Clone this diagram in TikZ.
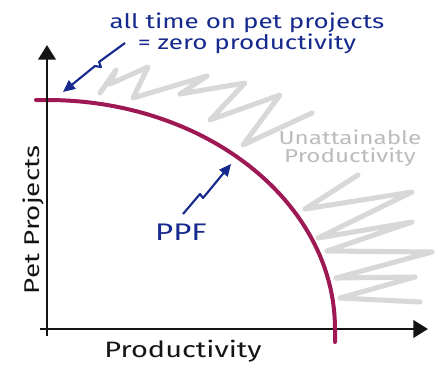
\documentclass[tikz,border=0pt]{standalone}
\usepackage{fontspec}
\setmainfont{Fira Sans}
\newfontfamily\handfont[FakeStretch=1.3]{Fira Sans}
\usetikzlibrary{arrows.meta}

\definecolor{ppfred}{RGB}{158,24,84}
\definecolor{penblue}{RGB}{22,42,142}
\definecolor{chalkgray}{RGB}{216,216,216}
\definecolor{notegray}{RGB}{188,188,188}

\tikzset{
  axisline/.style={line width=2.2pt, color={rgb,255:red,20;green,20;blue,20}, -{Triangle[length=11pt,width=13pt]}},
  ppfline/.style={line width=3pt, color=ppfred, line cap=round},
  zigline/.style={line width=3.8pt, color=chalkgray, line cap=round, line join=round},
  penarrow/.style={line width=1.6pt, color=penblue, line join=round, -{Triangle[length=9pt,width=8pt]}},
  pentext/.style={inner sep=0.75pt, text=penblue},
  axistext/.style={inner sep=0.75pt, text={rgb,255:red,20;green,20;blue,20}},
}

\begin{document}
\begin{tikzpicture}[x=0.75pt,y=0.75pt,yscale=-1,xscale=1]
        \useasboundingbox (0,0) rectangle (444,379);

        %Zigzag: upper [id:gz1]
        \draw[zigline] (100,93) -- (116,70) -- (110,84) -- (148,67) -- (133,98) -- (207,76) -- (180,94) -- (245,83) -- (210,120) -- (280,95) -- (243,145) -- (312,113) ;
        %Zigzag: lower [id:gz2]
        \draw[zigline] (358,175) -- (305,209) -- (412,192) -- (318,238) -- (412,222) -- (327,251) -- (432,252) -- (336,278) -- (415,277) -- (340,298) -- (420,302) ;

        %Straight Lines: x axis [id:ax1]
        \draw[axisline] (40,329) -- (428,329) ;
        %Curve: PPF [id:pp1]
        \draw[ppfline] (36,100) -- (47,100) arc [start angle=-90, end angle=0, x radius=288, y radius=229] -- (335,342) ;
        %Straight Lines: y axis [id:ax2]
        \draw[axisline] (47,336) -- (47,45) ;

        % Text Node
        \node[pentext, align=center, font=\handfont\fontsize{15}{14.5}\selectfont] (topNote) at (247,33) {all time on pet projects\\= zero productivity};
        % Text Node
        \node[pentext, font=\handfont\fontsize{18}{20}\selectfont] (ppfLabel) at (181,232) {PPF};
        % Text Node
        \node[inner sep=0.75pt, text=notegray, align=center, font=\handfont\fontsize{14}{13.5}\selectfont] (unattain) at (350,148) {Unattainable\\Productivity};
        % Text Node
        \node[axistext, font=\handfont\fontsize{16.7}{20}\selectfont] (xLabel) at (183,351) {Productivity};
        % Text Node
        \node[axistext, rotate=90, font=\handfont\fontsize{16}{20}\selectfont] (yLabel) at (33,220) {Pet Projects};

        %Arrow: top note to curve start
        \coordinate (noteStart) at (125,43);
        \coordinate (noteTip) at (63,92);
        \draw[penarrow] (noteStart) -- (99,62) -- (101,67) -- (95,66) -- (noteTip) ;
        %Arrow: PPF label to curve
        \coordinate (ppfStart) at (183,214);
        \coordinate (ppfTip) at (231,164);
        \draw[penarrow] (ppfStart) -- (200,194) -- (203,198) -- (208,192) -- (ppfTip) ;

\end{tikzpicture}
\end{document}
